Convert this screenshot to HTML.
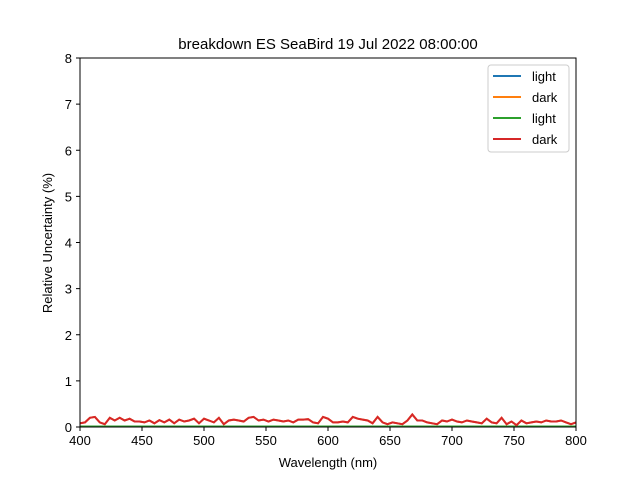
<!DOCTYPE html>
<html><head><meta charset="utf-8">
<style>body{margin:0;background:#fff}svg{display:block;font-family:"Liberation Sans","DejaVu Sans",sans-serif}</style>
</head><body>
<svg id="c" width="640" height="480"></svg>
<script>
const wavelengths = [];
for (let w = 400; w <= 800; w += 4) wavelengths.push(w);
const darkValues = [0.08,0.1,0.2,0.22,0.1,0.06,0.2,0.14,0.2,0.14,0.18,0.12,0.12,0.1,0.14,0.08,0.15,0.1,0.16,0.08,0.16,0.12,0.14,0.18,0.08,0.18,0.14,0.1,0.2,0.06,0.14,0.16,0.14,0.12,0.2,0.22,0.14,0.16,0.12,0.16,0.14,0.12,0.14,0.1,0.16,0.16,0.17,0.1,0.08,0.22,0.18,0.1,0.1,0.12,0.1,0.22,0.18,0.16,0.14,0.08,0.22,0.1,0.06,0.1,0.08,0.06,0.14,0.27,0.14,0.14,0.1,0.08,0.06,0.14,0.12,0.16,0.12,0.1,0.14,0.12,0.1,0.08,0.18,0.1,0.08,0.2,0.06,0.12,0.04,0.14,0.08,0.1,0.12,0.1,0.14,0.12,0.12,0.14,0.1,0.06,0.1];
const lightValues = wavelengths.map(() => 0.01);
const xTicks = [400,450,500,550,600,650,700,750,800];
const yTicks = [0,1,2,3,4,5,6,7,8];
const legendLabels = ["light","dark","light","dark"];
const colors = ["#1f77b4","#ff7f0e","#2ca02c","#d62728"];

const NS = "http://www.w3.org/2000/svg";
const svg = document.getElementById('c');
const L=80,R=576,T=58,B=427;
const xs = v => L + (v-400)/400*(R-L);
const ys = v => B - v/8*(B-T);
function mk(tag, attrs, parent){const e=document.createElementNS(NS,tag);for(const k in attrs)e.setAttribute(k,attrs[k]);(parent||svg).appendChild(e);return e;}

const title = mk('text',{x:328,y:49,'text-anchor':'middle','font-size':15});
title.textContent = "breakdown ES SeaBird 19 Jul 2022 08:00:00";



const series = [lightValues, darkValues, lightValues, darkValues];
series.forEach((vals, i) => {
  const d = vals.map((v,j)=>(j?'L':'M')+xs(wavelengths[j]).toFixed(1)+' '+ys(v).toFixed(1)).join(' ');
  const p = mk('path',{d:d,fill:'none',stroke:colors[i],'stroke-width':2});
  
  
});

const frame = mk('rect',{x:L,y:T,width:R-L,height:B-T,fill:'none',stroke:'#000','stroke-width':1});



xTicks.forEach(t => {
  const x = xs(t);
  const tk = mk('line',{x1:x,x2:x,y1:B,y2:B+4,stroke:'#000'});
  
  
  const lb = mk('text',{x:x,y:B+18,'text-anchor':'middle','font-size':13});
  lb.textContent = t;
  
  
});
yTicks.forEach(t => {
  const y = ys(t);
  const tk = mk('line',{x1:L-4,x2:L,y1:y,y2:y,stroke:'#000'});
  
  
  const lb = mk('text',{x:L-8,y:y+5,'text-anchor':'end','font-size':13});
  lb.textContent = t;
  
  
});

const xt = mk('text',{x:328,y:467,'text-anchor':'middle','font-size':13});
xt.textContent = "Wavelength (nm)";


const yt = mk('text',{x:52,y:243,'text-anchor':'middle','font-size':13,transform:'rotate(-90 52 243)'});
yt.textContent = "Relative Uncertainty (%)";



const lg = mk('g',{});


mk('rect',{x:488,y:65,width:81,height:87,rx:3,fill:'#fff',stroke:'#ccc'},lg);
legendLabels.forEach((lab,i)=>{
  const y = 76 + i*21;
  const ln = mk('line',{x1:493,x2:521,y1:y,y2:y,stroke:colors[i],'stroke-width':2},lg);
  
  
  const tx = mk('text',{x:532,y:y+5,'font-size':13},lg);
  tx.textContent = lab;
  
  
});
</script>
</body></html>
